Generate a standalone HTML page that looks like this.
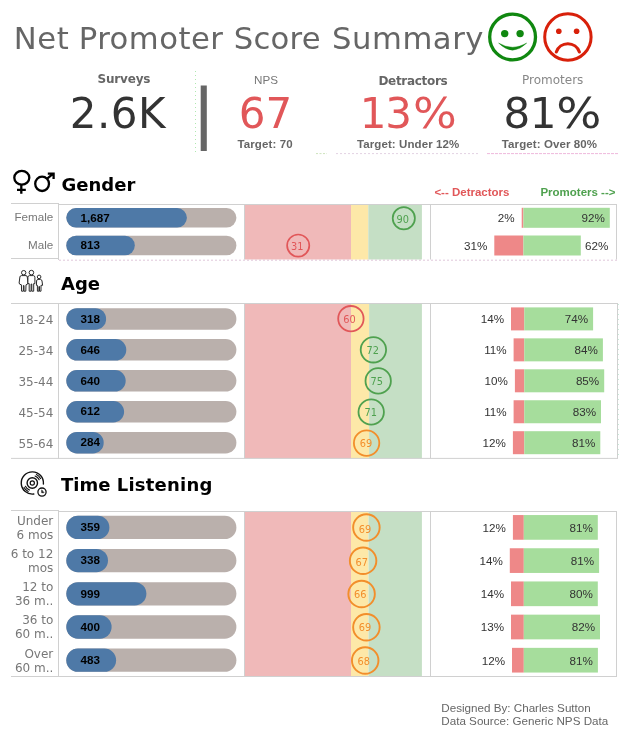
<!DOCTYPE html>
<html lang="en"><head><meta charset="utf-8"><title>Net Promoter Score Summary</title>
<style>
html,body{margin:0;padding:0;background:#fff;}
body{width:629px;height:736px;overflow:hidden;font-family:"Liberation Sans",sans-serif;}
svg{display:block}
</style></head><body>
<svg width="629" height="736" viewBox="0 0 629 736">
<rect width="629" height="736" fill="#fff"/>
<text y="49.3" font-family='"DejaVu Sans", "Liberation Sans", sans-serif' font-size="30.67" fill="#666"><tspan x="13.8" letter-spacing="0.6">Net </tspan><tspan x="78.7" letter-spacing="0.5">Promoter </tspan><tspan x="233.8" letter-spacing="0.25">Score </tspan><tspan x="332" letter-spacing="0.55">Summary</tspan></text>
<g fill="none" stroke="#108810" stroke-width="3.3">
<circle cx="512.6" cy="37" r="22.9"/>
</g>
<circle cx="504.7" cy="33.6" r="3.7" fill="#108810"/><circle cx="520.1" cy="33.6" r="3.7" fill="#108810"/>
<path d="M498.6 43.1 Q512.6 51.4 526.7 43.1 Q512.6 57.2 498.6 43.1Z" fill="#108810" stroke="#108810" stroke-width="0.4" stroke-linejoin="round"/>
<g fill="none" stroke="#d8200a" stroke-width="3">
<circle cx="567.9" cy="37" r="23.2"/>
<path d="M556.3 52 A12.2 12.2 0 0 1 579.4 52" stroke-width="3.1" stroke-linecap="round"/>
</g>
<circle cx="558.8" cy="31.2" r="2.8" fill="#d8200a"/><circle cx="576.6" cy="31.2" r="2.8" fill="#d8200a"/>
<text x="123.9" y="82.7" font-family='"DejaVu Sans", "Liberation Sans", sans-serif' font-size="12" font-weight="bold" fill="#666" text-anchor="middle" letter-spacing="-0.2">Surveys</text>
<text x="69.7" y="128.2" font-family='"DejaVu Sans", "Liberation Sans", sans-serif' font-size="42" font-weight="normal" fill="#333" text-anchor="start" letter-spacing="0.5">2.6K</text>
<rect x="200.7" y="85.5" width="6.1" height="65.5" fill="#666"/>
<text x="266" y="84" font-family='"Liberation Sans", sans-serif' font-size="11.65" font-weight="normal" fill="#777" text-anchor="middle">NPS</text>
<text x="265.4" y="128.2" font-family='"DejaVu Sans", "Liberation Sans", sans-serif' font-size="42" font-weight="normal" fill="#e15759" text-anchor="middle">67</text>
<text x="265.1" y="148" font-family='"Liberation Sans", sans-serif' font-size="11.5" font-weight="bold" fill="#666" text-anchor="middle" letter-spacing="0.1">Target: 70</text>
<text x="412.9" y="84.7" font-family='"DejaVu Sans", "Liberation Sans", sans-serif' font-size="12" font-weight="bold" fill="#666" text-anchor="middle" letter-spacing="-0.3">Detractors</text>
<text x="359.7" y="128.2" font-family='"DejaVu Sans", "Liberation Sans", sans-serif' font-size="42" font-weight="normal" fill="#e15759" text-anchor="start">1<tspan dx="-1.3">3</tspan><tspan dx="1.2" textLength="43.8" lengthAdjust="spacingAndGlyphs">%</tspan></text>
<text x="408.2" y="148" font-family='"Liberation Sans", sans-serif' font-size="11.5" font-weight="bold" fill="#666" text-anchor="middle" letter-spacing="0.1">Target: Under 12%</text>
<text x="552.7" y="84" font-family='"DejaVu Sans", "Liberation Sans", sans-serif' font-size="12" font-weight="normal" fill="#888" text-anchor="middle">Promoters</text>
<text x="503.4" y="128.2" font-family='"DejaVu Sans", "Liberation Sans", sans-serif' font-size="42" font-weight="normal" fill="#333" text-anchor="start">8<tspan dx="-0.4">1</tspan><tspan dx="-0.3" textLength="45.2" lengthAdjust="spacingAndGlyphs">%</tspan></text>
<text x="549.5" y="148" font-family='"Liberation Sans", sans-serif' font-size="11.5" font-weight="bold" fill="#666" text-anchor="middle" letter-spacing="0.1">Target: Over 80%</text>
<text x="61.5" y="190.5" font-family='"DejaVu Sans", "Liberation Sans", sans-serif' font-size="18" font-weight="bold" fill="#000" text-anchor="start">Gender</text>
<text x="61" y="289.9" font-family='"DejaVu Sans", "Liberation Sans", sans-serif' font-size="18" font-weight="bold" fill="#000" text-anchor="start">Age</text>
<text x="61" y="491.1" font-family='"DejaVu Sans", "Liberation Sans", sans-serif' font-size="18" font-weight="bold" fill="#000" text-anchor="start">Time <tspan letter-spacing="0.22">Listening</tspan></text>
<text x="434.4" y="195.6" font-family='"Liberation Sans", sans-serif' font-size="11.5" font-weight="bold" fill="#e15759" text-anchor="start">&lt;-- Detractors</text>
<text x="615.5" y="195.9" font-family='"Liberation Sans", sans-serif' font-size="11.5" font-weight="bold" fill="#4fa14f" text-anchor="end">Promoters --&gt;</text>
<g fill="none" stroke="#000" stroke-width="2.3">
<ellipse cx="21.8" cy="177.8" rx="7.5" ry="6.9"/><path d="M21.3 184.8 V193.8 M17 189.8 H25.8"/>
<ellipse cx="42.1" cy="183.8" rx="6.9" ry="7.2"/><path d="M46.9 178.8 L52.6 174.2 M47.8 173.7 H53.6 V179"/>
</g>
<g fill="#fff" stroke="#2a2a2a" stroke-width="1" stroke-linejoin="round">
<circle cx="23.7" cy="272.7" r="2.2"/>
<path d="M21.4 275.6 H26 Q27.2 275.7 27.3 277 L27.9 283 Q27.8 284.6 26 284.8 L25.8 291.2 H24 V285.5 H23.4 V291.2 H21.6 L21.4 284.8 Q19.3 284.6 19.1 283 L19.9 277 Q20 275.7 21.4 275.6Z"/>
<circle cx="31.4" cy="272.6" r="2.3"/>
<path d="M29.4 275.6 H33.4 Q34.8 275.7 34.9 277.2 V283.6 H33.7 V291.2 H31.8 V284 H31.1 V291.2 H29.2 V283.6 H27.9 V277.2 Q28 275.7 29.4 275.6Z"/>
<circle cx="39.1" cy="276.9" r="1.8"/>
<path d="M37.8 279.4 H40.5 Q41.8 279.6 42 281 L42.6 285.3 H41 V291.2 H39.5 V286.5 H38.9 V291.2 H37.4 V285.3 H36.4 L36.6 281 Q36.7 279.6 37.8 279.4Z"/>
</g>
<g fill="none" stroke="#111" stroke-width="1.1" stroke-linecap="round">
<path d="M43.4 484.0 A11.1 11.1 0 1 0 33.8 494.0" stroke-width="1.4"/>
<circle cx="32.3" cy="483" r="5.2" stroke-width="1.4"/>
<circle cx="32.3" cy="483" r="2.1" stroke-width="1.2"/>
<path d="M35.1 476.0 A7.6 7.6 0 0 1 39.2 479.8 M36.4 474.6 A9.3 9.3 0 0 1 40.5 478.6"/>
<path d="M29.5 490.0 A7.6 7.6 0 0 1 25.4 486.2 M28.2 491.4 A9.3 9.3 0 0 1 24.1 487.4"/>
<circle cx="42" cy="492.1" r="4.1" stroke-width="1.3" fill="#fff"/>
<path d="M41.7 490.2 V492.7 L43.7 492.7 Z" fill="#111" stroke-width="0.6"/>
</g>
<line x1="11" y1="203.5" x2="58" y2="203.5" stroke="#d0d0d0" stroke-width="1"/>
<line x1="58.5" y1="203.0" x2="58.5" y2="260.0" stroke="#d0d0d0" stroke-width="1"/>
<rect x="245" y="205.0" width="106" height="54.5" fill="#f0b9b9"/>
<rect x="351" y="205.0" width="17.3" height="54.5" fill="#fde8a8"/>
<rect x="368.3" y="205.0" width="53.6" height="54.5" fill="#c5dfc5"/>
<line x1="58" y1="204.5" x2="617.0" y2="204.5" stroke="#d0d0d0" stroke-width="1"/>
<line x1="244.5" y1="204.5" x2="244.5" y2="259.5" stroke="#d0d0d0" stroke-width="1"/>
<line x1="430.5" y1="204.5" x2="430.5" y2="259.5" stroke="#d0d0d0" stroke-width="1"/>
<line x1="616.5" y1="204.5" x2="616.5" y2="259.5" stroke="#d0d0d0" stroke-width="1"/>
<line x1="11" y1="258.5" x2="58" y2="258.5" stroke="#d0d0d0" stroke-width="1"/>
<line x1="59" y1="260.2" x2="617.0" y2="260.2" stroke="#d8b8d0" stroke-width="1" stroke-dasharray="2 2" opacity="0.8"/>
<text x="53.3" y="221.4" font-family='"Liberation Sans", sans-serif' font-size="11.65" font-weight="normal" fill="#777" text-anchor="end">Female</text>
<rect x="66.3" y="208.05" width="170.1" height="19.5" fill="#bab0ac" rx="9.75"/>
<rect x="66.3" y="208.05" width="120.6" height="19.5" fill="#4e79a7" rx="9.75"/>
<text x="80.5" y="221.5" font-family='"Liberation Sans", sans-serif' font-size="11.65" font-weight="bold" fill="#000" text-anchor="start">1,687</text>
<circle cx="403.8" cy="218.3" r="11.1" fill="none" stroke="#4fa14f" stroke-width="1.7"/>
<text x="402.8" y="222.7" font-family='"DejaVu Sans", "Liberation Sans", sans-serif' font-size="9.8" font-weight="normal" fill="#4fa14f" text-anchor="middle">90</text>
<rect x="521.7" y="207.8" width="1.7" height="20" fill="#ee8888"/>
<rect x="523.4" y="207.8" width="86.4" height="20" fill="#a6dd9c"/>
<text x="514.7" y="222.1" font-family='"Liberation Sans", sans-serif' font-size="11.65" font-weight="normal" fill="#333" text-anchor="end">2%</text>
<text x="604.8" y="222.1" font-family='"Liberation Sans", sans-serif' font-size="11.65" font-weight="normal" fill="#333" text-anchor="end">92%</text>
<text x="53.3" y="249.1" font-family='"Liberation Sans", sans-serif' font-size="11.65" font-weight="normal" fill="#777" text-anchor="end">Male</text>
<rect x="66.3" y="235.75" width="170.1" height="19.5" fill="#bab0ac" rx="9.75"/>
<rect x="66.3" y="235.75" width="68.5" height="19.5" fill="#4e79a7" rx="9.75"/>
<text x="80.5" y="249.2" font-family='"Liberation Sans", sans-serif' font-size="11.65" font-weight="bold" fill="#000" text-anchor="start">813</text>
<circle cx="298.2" cy="245.6" r="11.1" fill="none" stroke="#e15759" stroke-width="1.7"/>
<text x="297.2" y="250.0" font-family='"DejaVu Sans", "Liberation Sans", sans-serif' font-size="9.8" font-weight="normal" fill="#e15759" text-anchor="middle">31</text>
<rect x="494.3" y="235.5" width="29.1" height="20" fill="#ee8888"/>
<rect x="523.4" y="235.5" width="57.4" height="20" fill="#a6dd9c"/>
<text x="487.3" y="249.8" font-family='"Liberation Sans", sans-serif' font-size="11.65" font-weight="normal" fill="#333" text-anchor="end">31%</text>
<text x="585.1" y="249.8" font-family='"Liberation Sans", sans-serif' font-size="11.65" font-weight="normal" fill="#333" text-anchor="start">62%</text>
<line x1="11" y1="303.5" x2="58" y2="303.5" stroke="#d0d0d0" stroke-width="1"/>
<line x1="58.5" y1="303.0" x2="58.5" y2="458.9" stroke="#d0d0d0" stroke-width="1"/>
<rect x="245" y="304.0" width="106" height="154.39999999999998" fill="#f0b9b9"/>
<rect x="351" y="304.0" width="18.1" height="154.39999999999998" fill="#fde8a8"/>
<rect x="369.1" y="304.0" width="52.8" height="154.39999999999998" fill="#c5dfc5"/>
<line x1="58" y1="303.5" x2="618.0" y2="303.5" stroke="#d0d0d0" stroke-width="1"/>
<line x1="244.5" y1="303.5" x2="244.5" y2="458.4" stroke="#d0d0d0" stroke-width="1"/>
<line x1="430.5" y1="303.5" x2="430.5" y2="458.4" stroke="#d0d0d0" stroke-width="1"/>
<line x1="617.5" y1="303.5" x2="617.5" y2="458.4" stroke="#d0d0d0" stroke-width="1"/>
<line x1="11" y1="458.4" x2="618.0" y2="458.4" stroke="#d0d0d0" stroke-width="1"/>
<text x="53.3" y="324.09999999999997" font-family='"DejaVu Sans", "Liberation Sans", sans-serif' font-size="12" font-weight="normal" fill="#777" text-anchor="end">18-24</text>
<rect x="66.3" y="308.15" width="170.1" height="21.5" fill="#bab0ac" rx="10.75"/>
<rect x="66.3" y="308.15" width="39.8" height="21.5" fill="#4e79a7" rx="10.75"/>
<text x="80.5" y="322.6" font-family='"Liberation Sans", sans-serif' font-size="11.65" font-weight="bold" fill="#000" text-anchor="start">318</text>
<circle cx="350.9" cy="318.7" r="12.7" fill="none" stroke="#e15759" stroke-width="1.8"/>
<text x="349.4" y="322.5" font-family='"DejaVu Sans", "Liberation Sans", sans-serif' font-size="9.8" font-weight="normal" fill="#e15759" text-anchor="middle">60</text>
<rect x="511" y="307.4" width="13.3" height="23" fill="#ee8888"/>
<rect x="524.3" y="307.4" width="68.8" height="23" fill="#a6dd9c"/>
<text x="504" y="323.2" font-family='"Liberation Sans", sans-serif' font-size="11.65" font-weight="normal" fill="#333" text-anchor="end">14%</text>
<text x="588.1" y="323.2" font-family='"Liberation Sans", sans-serif' font-size="11.65" font-weight="normal" fill="#333" text-anchor="end">74%</text>
<text x="53.3" y="355.05" font-family='"DejaVu Sans", "Liberation Sans", sans-serif' font-size="12" font-weight="normal" fill="#777" text-anchor="end">25-34</text>
<rect x="66.3" y="339.1" width="170.1" height="21.5" fill="#bab0ac" rx="10.75"/>
<rect x="66.3" y="339.1" width="60.0" height="21.5" fill="#4e79a7" rx="10.75"/>
<text x="80.5" y="353.55" font-family='"Liberation Sans", sans-serif' font-size="11.65" font-weight="bold" fill="#000" text-anchor="start">646</text>
<circle cx="373.4" cy="349.8" r="12.7" fill="none" stroke="#4fa14f" stroke-width="1.8"/>
<text x="372.8" y="354.3" font-family='"DejaVu Sans", "Liberation Sans", sans-serif' font-size="9.8" font-weight="normal" fill="#4fa14f" text-anchor="middle">72</text>
<rect x="513.6" y="338.35" width="10.7" height="23" fill="#ee8888"/>
<rect x="524.3" y="338.35" width="78.6" height="23" fill="#a6dd9c"/>
<text x="506.6" y="354.15" font-family='"Liberation Sans", sans-serif' font-size="11.65" font-weight="normal" fill="#333" text-anchor="end">11%</text>
<text x="597.9" y="354.15" font-family='"Liberation Sans", sans-serif' font-size="11.65" font-weight="normal" fill="#333" text-anchor="end">84%</text>
<text x="53.3" y="386.0" font-family='"DejaVu Sans", "Liberation Sans", sans-serif' font-size="12" font-weight="normal" fill="#777" text-anchor="end">35-44</text>
<rect x="66.3" y="370.05" width="170.1" height="21.5" fill="#bab0ac" rx="10.75"/>
<rect x="66.3" y="370.05" width="59.4" height="21.5" fill="#4e79a7" rx="10.75"/>
<text x="80.5" y="384.5" font-family='"Liberation Sans", sans-serif' font-size="11.65" font-weight="bold" fill="#000" text-anchor="start">640</text>
<circle cx="378.2" cy="380.9" r="12.7" fill="none" stroke="#4fa14f" stroke-width="1.8"/>
<text x="376.8" y="384.9" font-family='"DejaVu Sans", "Liberation Sans", sans-serif' font-size="9.8" font-weight="normal" fill="#4fa14f" text-anchor="middle">75</text>
<rect x="514.9" y="369.3" width="9.4" height="23" fill="#ee8888"/>
<rect x="524.3" y="369.3" width="79.9" height="23" fill="#a6dd9c"/>
<text x="507.9" y="385.1" font-family='"Liberation Sans", sans-serif' font-size="11.65" font-weight="normal" fill="#333" text-anchor="end">10%</text>
<text x="599.2" y="385.1" font-family='"Liberation Sans", sans-serif' font-size="11.65" font-weight="normal" fill="#333" text-anchor="end">85%</text>
<text x="53.3" y="416.95" font-family='"DejaVu Sans", "Liberation Sans", sans-serif' font-size="12" font-weight="normal" fill="#777" text-anchor="end">45-54</text>
<rect x="66.3" y="401.0" width="170.1" height="21.5" fill="#bab0ac" rx="10.75"/>
<rect x="66.3" y="401.0" width="57.8" height="21.5" fill="#4e79a7" rx="10.75"/>
<text x="80.5" y="415.45" font-family='"Liberation Sans", sans-serif' font-size="11.65" font-weight="bold" fill="#000" text-anchor="start">612</text>
<circle cx="371.2" cy="412.0" r="12.7" fill="none" stroke="#4fa14f" stroke-width="1.8"/>
<text x="370.7" y="416.0" font-family='"DejaVu Sans", "Liberation Sans", sans-serif' font-size="9.8" font-weight="normal" fill="#4fa14f" text-anchor="middle">71</text>
<rect x="513.6" y="400.25" width="10.7" height="23" fill="#ee8888"/>
<rect x="524.3" y="400.25" width="76.7" height="23" fill="#a6dd9c"/>
<text x="506.6" y="416.05" font-family='"Liberation Sans", sans-serif' font-size="11.65" font-weight="normal" fill="#333" text-anchor="end">11%</text>
<text x="596" y="416.05" font-family='"Liberation Sans", sans-serif' font-size="11.65" font-weight="normal" fill="#333" text-anchor="end">83%</text>
<text x="53.3" y="447.9" font-family='"DejaVu Sans", "Liberation Sans", sans-serif' font-size="12" font-weight="normal" fill="#777" text-anchor="end">55-64</text>
<rect x="66.3" y="431.95" width="170.1" height="21.5" fill="#bab0ac" rx="10.75"/>
<rect x="66.3" y="431.95" width="37.4" height="21.5" fill="#4e79a7" rx="10.75"/>
<text x="80.5" y="446.4" font-family='"Liberation Sans", sans-serif' font-size="11.65" font-weight="bold" fill="#000" text-anchor="start">284</text>
<circle cx="366.6" cy="443.1" r="12.7" fill="none" stroke="#f28e2b" stroke-width="1.8"/>
<text x="366.1" y="446.7" font-family='"DejaVu Sans", "Liberation Sans", sans-serif' font-size="9.8" font-weight="normal" fill="#f28e2b" text-anchor="middle">69</text>
<rect x="512.9" y="431.2" width="11.4" height="23" fill="#ee8888"/>
<rect x="524.3" y="431.2" width="76.0" height="23" fill="#a6dd9c"/>
<text x="505.9" y="447.0" font-family='"Liberation Sans", sans-serif' font-size="11.65" font-weight="normal" fill="#333" text-anchor="end">12%</text>
<text x="595.3" y="447.0" font-family='"Liberation Sans", sans-serif' font-size="11.65" font-weight="normal" fill="#333" text-anchor="end">81%</text>
<line x1="11" y1="510.5" x2="58" y2="510.5" stroke="#d0d0d0" stroke-width="1"/>
<line x1="58.5" y1="510.0" x2="58.5" y2="677.0" stroke="#d0d0d0" stroke-width="1"/>
<rect x="245" y="512.0" width="106" height="164.5" fill="#f0b9b9"/>
<rect x="351" y="512.0" width="17.5" height="164.5" fill="#fde8a8"/>
<rect x="368.5" y="512.0" width="53.4" height="164.5" fill="#c5dfc5"/>
<line x1="58" y1="511.5" x2="617.0" y2="511.5" stroke="#d0d0d0" stroke-width="1"/>
<line x1="244.5" y1="511.5" x2="244.5" y2="676.5" stroke="#d0d0d0" stroke-width="1"/>
<line x1="430.5" y1="511.5" x2="430.5" y2="676.5" stroke="#d0d0d0" stroke-width="1"/>
<line x1="616.5" y1="511.5" x2="616.5" y2="676.5" stroke="#d0d0d0" stroke-width="1"/>
<line x1="11" y1="676.5" x2="617.0" y2="676.5" stroke="#d0d0d0" stroke-width="1"/>
<text x="53.3" y="524.8" font-family='"DejaVu Sans", "Liberation Sans", sans-serif' font-size="12" font-weight="normal" fill="#777" text-anchor="end">Under</text>
<text x="53.3" y="538.6999999999999" font-family='"DejaVu Sans", "Liberation Sans", sans-serif' font-size="12" font-weight="normal" fill="#777" text-anchor="end">6 mos</text>
<rect x="66.3" y="515.75" width="170.1" height="23.3" fill="#bab0ac" rx="11.65"/>
<rect x="66.3" y="515.75" width="43.1" height="23.3" fill="#4e79a7" rx="11.65"/>
<text x="80.5" y="531.1" font-family='"Liberation Sans", sans-serif' font-size="11.65" font-weight="bold" fill="#000" text-anchor="start">359</text>
<circle cx="366.4" cy="527.5" r="13.25" fill="none" stroke="#f28e2b" stroke-width="1.9"/>
<text x="365.0" y="532.7" font-family='"DejaVu Sans", "Liberation Sans", sans-serif' font-size="9.8" font-weight="normal" fill="#f28e2b" text-anchor="middle">69</text>
<rect x="512.9" y="515.05" width="10.9" height="24.7" fill="#ee8888"/>
<rect x="523.8" y="515.05" width="74.0" height="24.7" fill="#a6dd9c"/>
<text x="505.9" y="531.7" font-family='"Liberation Sans", sans-serif' font-size="11.65" font-weight="normal" fill="#333" text-anchor="end">12%</text>
<text x="592.8" y="531.7" font-family='"Liberation Sans", sans-serif' font-size="11.65" font-weight="normal" fill="#333" text-anchor="end">81%</text>
<text x="53.3" y="558.0" font-family='"DejaVu Sans", "Liberation Sans", sans-serif' font-size="12" font-weight="normal" fill="#777" text-anchor="end">6 to 12</text>
<text x="53.3" y="571.9" font-family='"DejaVu Sans", "Liberation Sans", sans-serif' font-size="12" font-weight="normal" fill="#777" text-anchor="end">mos</text>
<rect x="66.3" y="548.95" width="170.1" height="23.3" fill="#bab0ac" rx="11.65"/>
<rect x="66.3" y="548.95" width="41.7" height="23.3" fill="#4e79a7" rx="11.65"/>
<text x="80.5" y="564.3" font-family='"Liberation Sans", sans-serif' font-size="11.65" font-weight="bold" fill="#000" text-anchor="start">338</text>
<circle cx="363.1" cy="560.75" r="13.25" fill="none" stroke="#f28e2b" stroke-width="1.9"/>
<text x="361.7" y="565.55" font-family='"DejaVu Sans", "Liberation Sans", sans-serif' font-size="9.8" font-weight="normal" fill="#f28e2b" text-anchor="middle">67</text>
<rect x="509.8" y="548.25" width="14.0" height="24.7" fill="#ee8888"/>
<rect x="523.8" y="548.25" width="75.3" height="24.7" fill="#a6dd9c"/>
<text x="502.8" y="564.9" font-family='"Liberation Sans", sans-serif' font-size="11.65" font-weight="normal" fill="#333" text-anchor="end">14%</text>
<text x="594.1" y="564.9" font-family='"Liberation Sans", sans-serif' font-size="11.65" font-weight="normal" fill="#333" text-anchor="end">81%</text>
<text x="53.3" y="591.1999999999999" font-family='"DejaVu Sans", "Liberation Sans", sans-serif' font-size="12" font-weight="normal" fill="#777" text-anchor="end">12 to</text>
<text x="53.3" y="605.0999999999999" font-family='"DejaVu Sans", "Liberation Sans", sans-serif' font-size="12" font-weight="normal" fill="#777" text-anchor="end">36 m..</text>
<rect x="66.3" y="582.15" width="170.1" height="23.3" fill="#bab0ac" rx="11.65"/>
<rect x="66.3" y="582.15" width="80.1" height="23.3" fill="#4e79a7" rx="11.65"/>
<text x="80.5" y="597.5" font-family='"Liberation Sans", sans-serif' font-size="11.65" font-weight="bold" fill="#000" text-anchor="start">999</text>
<circle cx="361.6" cy="594.0" r="13.25" fill="none" stroke="#f28e2b" stroke-width="1.9"/>
<text x="360.2" y="598.2" font-family='"DejaVu Sans", "Liberation Sans", sans-serif' font-size="9.8" font-weight="normal" fill="#f28e2b" text-anchor="middle">66</text>
<rect x="511" y="581.45" width="12.8" height="24.7" fill="#ee8888"/>
<rect x="523.8" y="581.45" width="74.0" height="24.7" fill="#a6dd9c"/>
<text x="504" y="598.1" font-family='"Liberation Sans", sans-serif' font-size="11.65" font-weight="normal" fill="#333" text-anchor="end">14%</text>
<text x="592.8" y="598.1" font-family='"Liberation Sans", sans-serif' font-size="11.65" font-weight="normal" fill="#333" text-anchor="end">80%</text>
<text x="53.3" y="624.4" font-family='"DejaVu Sans", "Liberation Sans", sans-serif' font-size="12" font-weight="normal" fill="#777" text-anchor="end">36 to</text>
<text x="53.3" y="638.3" font-family='"DejaVu Sans", "Liberation Sans", sans-serif' font-size="12" font-weight="normal" fill="#777" text-anchor="end">60 m..</text>
<rect x="66.3" y="615.35" width="170.1" height="23.3" fill="#bab0ac" rx="11.65"/>
<rect x="66.3" y="615.35" width="45.3" height="23.3" fill="#4e79a7" rx="11.65"/>
<text x="80.5" y="630.7" font-family='"Liberation Sans", sans-serif' font-size="11.65" font-weight="bold" fill="#000" text-anchor="start">400</text>
<circle cx="366.4" cy="627.25" r="13.25" fill="none" stroke="#f28e2b" stroke-width="1.9"/>
<text x="365.0" y="631.35" font-family='"DejaVu Sans", "Liberation Sans", sans-serif' font-size="9.8" font-weight="normal" fill="#f28e2b" text-anchor="middle">69</text>
<rect x="511" y="614.65" width="12.8" height="24.7" fill="#ee8888"/>
<rect x="523.8" y="614.65" width="76.2" height="24.7" fill="#a6dd9c"/>
<text x="504" y="631.3" font-family='"Liberation Sans", sans-serif' font-size="11.65" font-weight="normal" fill="#333" text-anchor="end">13%</text>
<text x="595" y="631.3" font-family='"Liberation Sans", sans-serif' font-size="11.65" font-weight="normal" fill="#333" text-anchor="end">82%</text>
<text x="53.3" y="657.6" font-family='"DejaVu Sans", "Liberation Sans", sans-serif' font-size="12" font-weight="normal" fill="#777" text-anchor="end">Over</text>
<text x="53.3" y="671.5" font-family='"DejaVu Sans", "Liberation Sans", sans-serif' font-size="12" font-weight="normal" fill="#777" text-anchor="end">60 m..</text>
<rect x="66.3" y="648.55" width="170.1" height="23.3" fill="#bab0ac" rx="11.65"/>
<rect x="66.3" y="648.55" width="49.8" height="23.3" fill="#4e79a7" rx="11.65"/>
<text x="80.5" y="663.9" font-family='"Liberation Sans", sans-serif' font-size="11.65" font-weight="bold" fill="#000" text-anchor="start">483</text>
<circle cx="365.2" cy="660.5" r="13.25" fill="none" stroke="#f28e2b" stroke-width="1.9"/>
<text x="363.8" y="664.7" font-family='"DejaVu Sans", "Liberation Sans", sans-serif' font-size="9.8" font-weight="normal" fill="#f28e2b" text-anchor="middle">68</text>
<rect x="512" y="647.85" width="11.8" height="24.7" fill="#ee8888"/>
<rect x="523.8" y="647.85" width="74.1" height="24.7" fill="#a6dd9c"/>
<text x="505" y="664.5" font-family='"Liberation Sans", sans-serif' font-size="11.65" font-weight="normal" fill="#333" text-anchor="end">12%</text>
<text x="592.9" y="664.5" font-family='"Liberation Sans", sans-serif' font-size="11.65" font-weight="normal" fill="#333" text-anchor="end">81%</text>
<line x1="195.5" y1="71" x2="195.5" y2="154" stroke="#8fe08f" stroke-width="1" stroke-dasharray="1 3" opacity="0.7"/>
<line x1="316" y1="153.6" x2="327" y2="153.6" stroke="#b8d8a0" stroke-width="1" stroke-dasharray="2 1.5" opacity="0.7"/>
<line x1="336" y1="153.6" x2="480" y2="153.6" stroke="#d8c0d8" stroke-width="1" stroke-dasharray="2 2" opacity="0.7"/>
<line x1="487" y1="153.6" x2="618" y2="153.6" stroke="#e8a0d0" stroke-width="1" stroke-dasharray="3 1" opacity="0.75"/>
<line x1="618.5" y1="304" x2="618.5" y2="458" stroke="#a0e0c0" stroke-width="1" stroke-dasharray="1 4" opacity="0.6"/>
<text x="441.3" y="712.2" font-family='"Liberation Sans", sans-serif' font-size="11.65" font-weight="normal" fill="#666" text-anchor="start">Designed By: Charles Sutton</text>
<text x="441.3" y="724.9" font-family='"Liberation Sans", sans-serif' font-size="11.65" font-weight="normal" fill="#666" text-anchor="start">Data Source: Generic NPS Data</text>
</svg>
</body></html>
